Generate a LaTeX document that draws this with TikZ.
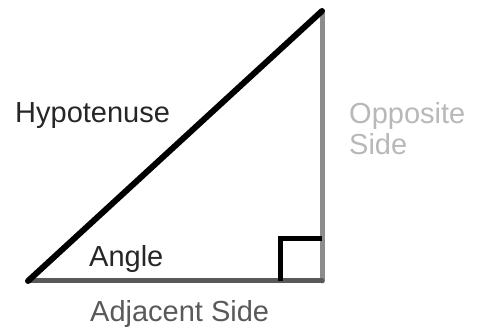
\documentclass[tikz,border=0pt]{standalone}
\usepackage{fontspec}
\setmainfont{Liberation Sans}
\usepackage{xcolor}
\usepackage{tikz}
\usetikzlibrary{positioning}

\definecolor{adjgray}{gray}{0.35}
\definecolor{oppgray}{gray}{0.55}
\definecolor{lblgray}{gray}{0.72}

\begin{document}
\begin{tikzpicture}[
    x=1pt,y=-1pt,
    every node/.style={font=\fontsize{29}{31}\selectfont,inner sep=0pt},
    lbl/.style ={anchor=base west,text=black!85},
    hyp/.style ={line width=6pt,black,line cap=round},
    leg/.style ={line width=5pt,line cap=round},
    rtmark/.style={line width=5pt,black},
  ]
  \useasboundingbox (0,0) rectangle (482,328);

  % Corners of the triangle
  \coordinate (A) at (28,281);
  \coordinate (B) at (322,281);
  \coordinate (C) at (322,11);
  \coordinate (R) at (280,239);

  % Legs, then the hypotenuse on top
  \draw[leg,draw=oppgray] (B) -- (C);
  \draw[leg,draw=adjgray] (A) -- (B);
  \draw[hyp] (A) -- (C);

  % Right angle mark
  \draw[rtmark] (R |- B) -- (R) -- (R -| B);

  % Labels
  \node[lbl] (H)  at (15,123)  {Hypotenuse};
  \node[lbl] (An) at (89,267)  {Angle};
  \node[lbl,text=adjgray] (Ad) at (90,322) {Adjacent Side};
  \node[lbl,text=lblgray,align=left] (O) at (349,155) {Opposite\\Side};
\end{tikzpicture}
\end{document}
